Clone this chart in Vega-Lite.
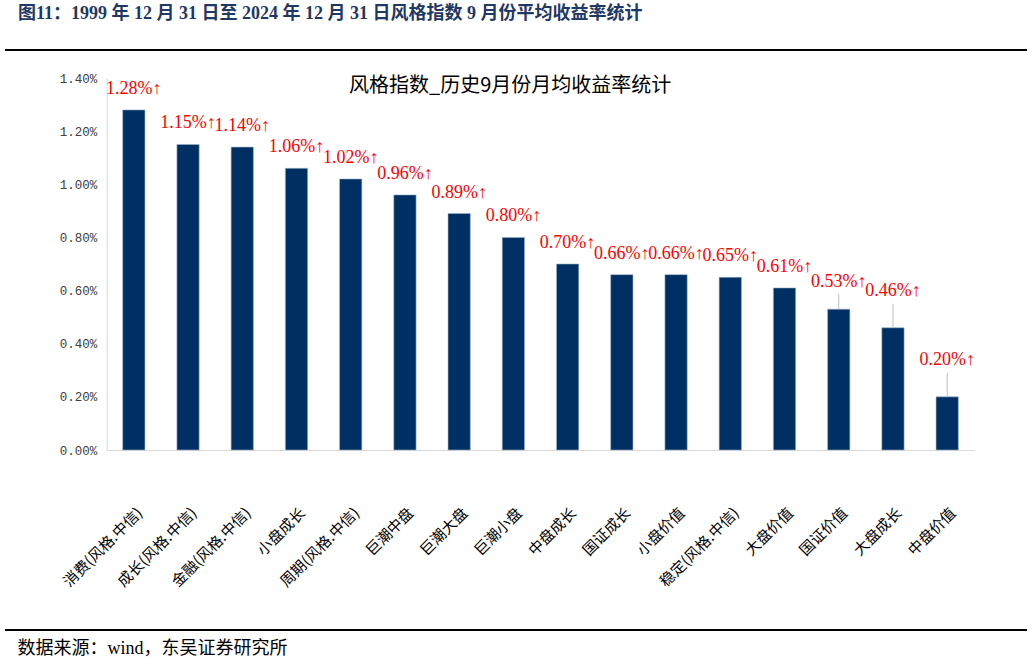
{
  "$schema": "https://vega.github.io/schema/vega-lite/v6.json",
  "width": 1022,
  "height": 580,
  "autosize": "none",
  "padding": {"left": 5, "top": 50, "right": 5, "bottom": 34},
  "background": "#ffffff",
  "config": {"view": {"stroke": null}},
  "title": {
    "text": "图11：1999 年 12 月 31 日至 2024 年 12 月 31 日风格指数 9 月份平均收益率统计",
    "anchor": "start",
    "frame": "group",
    "offset": 26,
    "dx": 13,
    "font": "Liberation Serif, Noto Sans CJK SC",
    "fontSize": 18,
    "fontWeight": "bold",
    "color": "#1f3864"
  },
  "data": {
    "values": [
      {"name": "消费(风格.中信)", "value": 0.0128, "label": "1.28%↑"},
      {"name": "成长(风格.中信)", "value": 0.0115, "label": "1.15%↑"},
      {"name": "金融(风格.中信)", "value": 0.0114, "label": "1.14%↑"},
      {"name": "小盘成长", "value": 0.0106, "label": "1.06%↑"},
      {"name": "周期(风格.中信)", "value": 0.0102, "label": "1.02%↑"},
      {"name": "巨潮中盘", "value": 0.0096, "label": "0.96%↑"},
      {"name": "巨潮大盘", "value": 0.0089, "label": "0.89%↑"},
      {"name": "巨潮小盘", "value": 0.0080, "label": "0.80%↑"},
      {"name": "中盘成长", "value": 0.0070, "label": "0.70%↑"},
      {"name": "国证成长", "value": 0.0066, "label": "0.66%↑"},
      {"name": "小盘价值", "value": 0.0066, "label": "0.66%↑"},
      {"name": "稳定(风格.中信)", "value": 0.0065, "label": "0.65%↑"},
      {"name": "大盘价值", "value": 0.0061, "label": "0.61%↑"},
      {"name": "国证价值", "value": 0.0053, "label": "0.53%↑"},
      {"name": "大盘成长", "value": 0.0046, "label": "0.46%↑"},
      {"name": "中盘价值", "value": 0.0020, "label": "0.20%↑"}
    ]
  },
  "layer": [
    {
      "mark": {"type": "bar", "color": "#003063", "stroke": "#9fb3c8", "strokeWidth": 0.6},
      "encoding": {
        "x": {
          "field": "name",
          "type": "nominal",
          "sort": null,
          "scale": {
            "domain": ["消费(风格.中信)", "成长(风格.中信)", "金融(风格.中信)", "小盘成长", "周期(风格.中信)", "巨潮中盘", "巨潮大盘", "巨潮小盘", "中盘成长", "国证成长", "小盘价值", "稳定(风格.中信)", "大盘价值", "国证价值", "大盘成长", "中盘价值"],
            "range": [101.7, 969.3],
            "paddingInner": 0.589,
            "paddingOuter": 0.2945
          },
          "axis": {
            "orient": "bottom",
            "offset": -180,
            "domain": true,
            "domainColor": "#d9d9d9",
            "domainWidth": 1,
            "ticks": false,
            "grid": false,
            "labelAngle": -45,
            "labelAlign": "right",
            "labelBaseline": "middle",
            "labelPadding": 60,
            "labelOffset": 6,
            "labelOverlap": false,
            "labelLimit": 0,
            "labelFont": "Noto Sans CJK SC",
            "labelFontSize": 15,
            "labelColor": "#000000",
            "title": "数据来源：wind，东吴证券研究所",
            "titleAnchor": "start",
            "titleAlign": "left",
            "titleBaseline": "middle",
            "titleX": 12,
            "titleY": 198,
            "titleFont": "Liberation Serif, Noto Sans CJK SC",
            "titleFontSize": 18,
            "titleFontWeight": "normal",
            "titleColor": "#000000"
          }
        },
        "y": {
          "field": "value",
          "type": "quantitative",
          "scale": {"domain": [0, 0.014], "range": [400, 28], "nice": false},
          "axis": {
            "orient": "left",
            "offset": -101.7,
            "domain": true,
            "domainColor": "#d9d9d9",
            "domainWidth": 1,
            "ticks": false,
            "grid": false,
            "values": [0, 0.002, 0.004, 0.006, 0.008, 0.01, 0.012, 0.014],
            "format": ".2%",
            "labelFont": "Liberation Mono",
            "labelFontSize": 12.5,
            "labelColor": "#404040",
            "labelPadding": 10,
            "title": "风格指数_历史9月份月均收益率统计",
            "titleAngle": 0,
            "titleAlign": "center",
            "titleBaseline": "middle",
            "titleX": 403,
            "titleY": 35,
            "titleFont": "Noto Sans CJK SC",
            "titleFontSize": 20,
            "titleFontWeight": "normal",
            "titleColor": "#000000"
          }
        }
      }
    },
    {
      "data": {"values": [{}]},
      "mark": {"type": "rule", "color": "#000000", "strokeWidth": 2.2},
      "encoding": {"y": {"datum": 0.015054, "type": "quantitative"}}
    },
    {
      "data": {"values": [{}]},
      "mark": {"type": "rule", "color": "#000000", "strokeWidth": 2.2},
      "encoding": {"y": {"datum": -0.006774, "type": "quantitative"}}
    },
    {
      "transform": [{"filter": {"not": {"field": "name", "oneOf": ["国证价值", "大盘成长", "中盘价值"]}}}],
      "mark": {"type": "text", "color": "#ff0000", "font": "Liberation Serif", "fontSize": 18, "baseline": "middle", "align": "center", "dy": -21},
      "encoding": {
        "x": {"field": "name", "type": "nominal"},
        "y": {"field": "value", "type": "quantitative"},
        "text": {"field": "label"}
      }
    },
    {
      "transform": [{"filter": {"field": "name", "equal": "国证价值"}}],
      "mark": {"type": "rule", "color": "#bfbfbf", "strokeWidth": 1, "y2Offset": -15},
      "encoding": {
        "x": {"field": "name", "type": "nominal"},
        "y": {"field": "value", "type": "quantitative"},
        "y2": {"field": "value"}
      }
    },
    {
      "transform": [{"filter": {"field": "name", "equal": "国证价值"}}],
      "mark": {"type": "text", "color": "#ff0000", "font": "Liberation Serif", "fontSize": 18, "baseline": "middle", "align": "center", "dy": -27},
      "encoding": {
        "x": {"field": "name", "type": "nominal"},
        "y": {"field": "value", "type": "quantitative"},
        "text": {"field": "label"}
      }
    },
    {
      "transform": [{"filter": {"field": "name", "oneOf": ["大盘成长", "中盘价值"]}}],
      "mark": {"type": "rule", "color": "#bfbfbf", "strokeWidth": 1, "y2Offset": -24},
      "encoding": {
        "x": {"field": "name", "type": "nominal"},
        "y": {"field": "value", "type": "quantitative"},
        "y2": {"field": "value"}
      }
    },
    {
      "transform": [{"filter": {"field": "name", "oneOf": ["大盘成长", "中盘价值"]}}],
      "mark": {"type": "text", "color": "#ff0000", "font": "Liberation Serif", "fontSize": 18, "baseline": "middle", "align": "center", "dy": -37},
      "encoding": {
        "x": {"field": "name", "type": "nominal"},
        "y": {"field": "value", "type": "quantitative"},
        "text": {"field": "label"}
      }
    }
  ]
}
